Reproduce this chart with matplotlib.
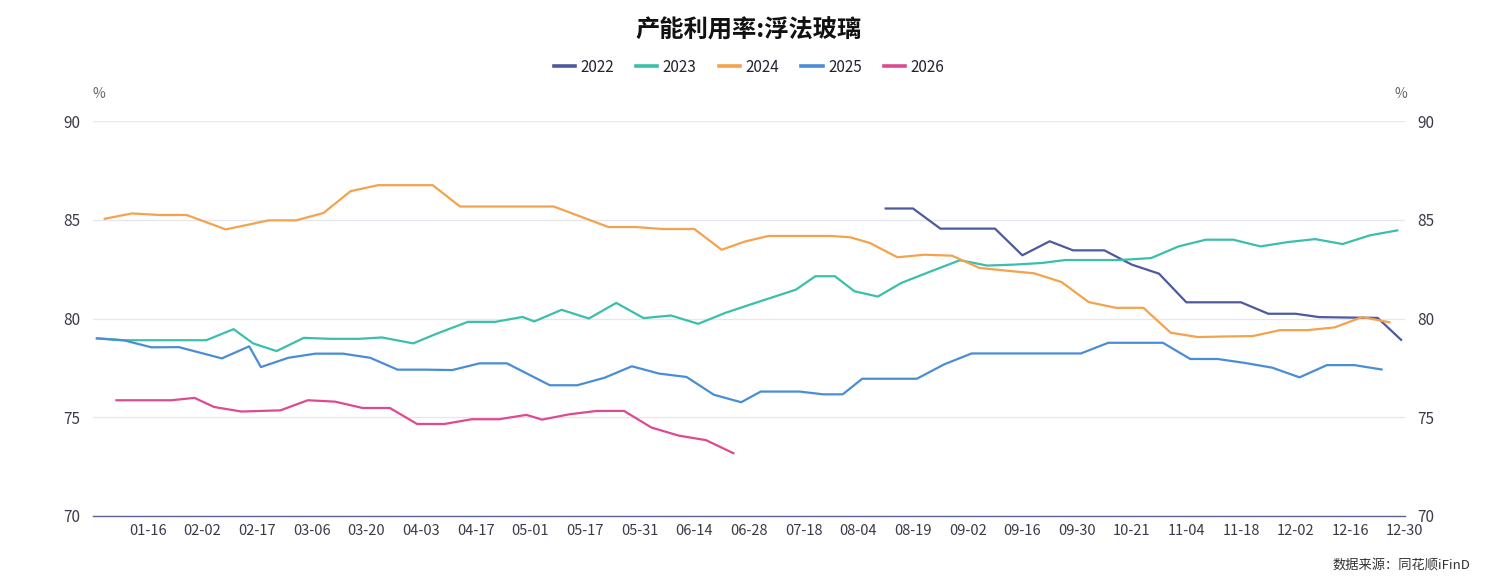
import matplotlib
matplotlib.use("Agg")
import matplotlib.pyplot as plt

plt.rcParams['font.family'] = ['Noto Sans CJK SC', 'DejaVu Sans']

title = "产能利用率:浮法玻璃"
source = "数据来源：同花顺iFinD"

# x axis: day-like category slots (0..336), labels every 14 slots
tick_labels = ["01-16", "02-02", "02-17", "03-06", "03-20", "04-03", "04-17", "05-01",
               "05-17", "05-31", "06-14", "06-28", "07-18", "08-04", "08-19", "09-02",
               "09-16", "09-30", "10-21", "11-04", "11-18", "12-02", "12-16", "12-30"]

x_2022 = [203, 210, 217, 224, 231, 238, 245, 251, 259, 266, 273, 280, 287, 294, 301, 308, 314, 321, 329, 335]
y_2022 = [85.57, 85.57, 84.55, 84.55, 84.55, 83.20, 83.91, 83.45, 83.45, 82.73, 82.27, 80.82, 80.82, 80.82,
          80.24, 80.24, 80.07, 80.05, 80.03, 78.92]

x_2023 = [1, 8, 15, 22, 29, 36, 41, 47, 54, 61, 68, 74, 82, 88, 96, 103, 110, 113, 120, 127, 134, 141,
          148, 155, 162, 169, 180, 185, 190, 195, 201, 207, 215, 222, 229, 236, 243, 249, 256, 263, 271,
          278, 285, 292, 299, 306, 313, 320, 327, 334]
y_2023 = [79.00, 78.90, 78.90, 78.90, 78.90, 79.46, 78.74, 78.35, 79.02, 78.97, 78.97, 79.04, 78.74, 79.23,
          79.83, 79.83, 80.08, 79.85, 80.44, 80.00, 80.79, 80.02, 80.15, 79.73, 80.29, 80.75, 81.46, 82.14,
          82.14, 81.38, 81.11, 81.80, 82.42, 82.95, 82.68, 82.73, 82.81, 82.96, 82.96, 82.96, 83.06, 83.65,
          83.99, 83.99, 83.65, 83.87, 84.02, 83.77, 84.21, 84.46]

x_2024 = [3, 10, 17, 24, 34, 45, 52, 59, 66, 73, 80, 87, 94, 101, 108, 118, 125, 132, 139, 146, 154, 161,
          167, 173, 181, 189, 194, 199, 206, 213, 220, 227, 234, 241, 248, 255, 262, 269, 276, 283, 290,
          297, 304, 311, 318, 325, 332]
y_2024 = [85.05, 85.32, 85.24, 85.24, 84.51, 84.97, 84.97, 85.34, 86.45, 86.75, 86.75, 86.75, 85.67, 85.67,
          85.67, 85.67, 85.15, 84.63, 84.63, 84.53, 84.53, 83.48, 83.90, 84.18, 84.18, 84.18, 84.11, 83.82,
          83.10, 83.23, 83.18, 82.56, 82.42, 82.29, 81.85, 80.83, 80.54, 80.54, 79.28, 79.06, 79.09, 79.11,
          79.41, 79.41, 79.55, 80.07, 79.81]

x_2025 = [1, 8, 15, 22, 33, 40, 43, 50, 57, 64, 71, 78, 85, 92, 99, 106, 117, 124, 131, 138, 145, 152,
          159, 166, 171, 176, 181, 187, 192, 197, 204, 211, 218, 225, 232, 239, 246, 253, 260, 267, 274,
          281, 288, 295, 302, 309, 316, 323, 330]
y_2025 = [78.99, 78.89, 78.54, 78.55, 77.98, 78.59, 77.54, 78.01, 78.22, 78.22, 78.01, 77.41, 77.41, 77.39,
          77.73, 77.73, 76.62, 76.62, 77.00, 77.58, 77.21, 77.04, 76.14, 75.76, 76.30, 76.30, 76.30, 76.16,
          76.16, 76.95, 76.95, 76.95, 77.68, 78.23, 78.23, 78.23, 78.23, 78.23, 78.77, 78.77, 78.77, 77.95,
          77.95, 77.75, 77.51, 77.02, 77.64, 77.64, 77.42]

x_2026 = [6, 13, 20, 26, 31, 38, 48, 55, 62, 69, 76, 83, 90, 97, 104, 111, 115, 122, 129, 136, 143, 150,
          157, 164]
y_2026 = [75.86, 75.86, 75.86, 75.98, 75.52, 75.29, 75.35, 75.86, 75.79, 75.47, 75.47, 74.66, 74.66, 74.90,
          74.90, 75.12, 74.88, 75.15, 75.32, 75.32, 74.48, 74.07, 73.84, 73.18]

series = [
    ("2022", x_2022, y_2022, "#4d5a9c"),
    ("2023", x_2023, y_2023, "#3bbfad"),
    ("2024", x_2024, y_2024, "#f5a24d"),
    ("2025", x_2025, y_2025, "#4a8dd6"),
    ("2026", x_2026, y_2026, "#dd4a92"),
]

fig = plt.figure(figsize=(14.98, 5.88), dpi=100)
ax = fig.add_axes([93/1498, 1-516/588, (1405-93)/1498, (516-121)/588])

for name, xs, ys, c in series:
    ax.plot(xs, ys, color=c, lw=1.6, label=name, solid_joinstyle='round')

ax.set_xlim(0, 336)
ax.set_ylim(70, 90)
ax.set_xticks([14 * (i + 1) for i in range(len(tick_labels))])
ax.set_xticklabels(tick_labels)
ax.set_yticks([70, 75, 80, 85, 90])
ax.tick_params(axis='x', length=0, pad=6, labelsize=10.5, labelcolor='#3a3a4a')
ax.tick_params(axis='y', length=0, pad=9, labelsize=11, labelcolor='#3a3a4a',
               labelleft=True, labelright=True)
ax.grid(axis='y', color='#e6e6ee', lw=0.9)
ax.set_axisbelow(True)
for s in ['top', 'left', 'right']:
    ax.spines[s].set_visible(False)
ax.spines['bottom'].set_color('#5b6490')
ax.spines['bottom'].set_linewidth(1.0)

fig.text(99/1498, 1-94/588, "%", ha='center', va='center', fontsize=10, color='#666666')
fig.text(1401/1498, 1-94/588, "%", ha='center', va='center', fontsize=10, color='#666666')

fig.text(0.5, 1-31/588, title, ha='center', va='center', fontsize=17.5, fontweight='bold', color='#111111')
leg = fig.legend(loc='center', bbox_to_anchor=(0.5, 1-67/588), ncol=5, frameon=False,
                 fontsize=11, handlelength=1.4, handletextpad=0.35, columnspacing=1.45,
                 labelcolor='#222233')
for h in leg.get_lines():
    h.set_linewidth(2.6)
fig.text(1470/1498, 1-565/588, source, ha='right', va='center', fontsize=9.5, color='#333333')

fig.savefig("out.png", dpi=100)
